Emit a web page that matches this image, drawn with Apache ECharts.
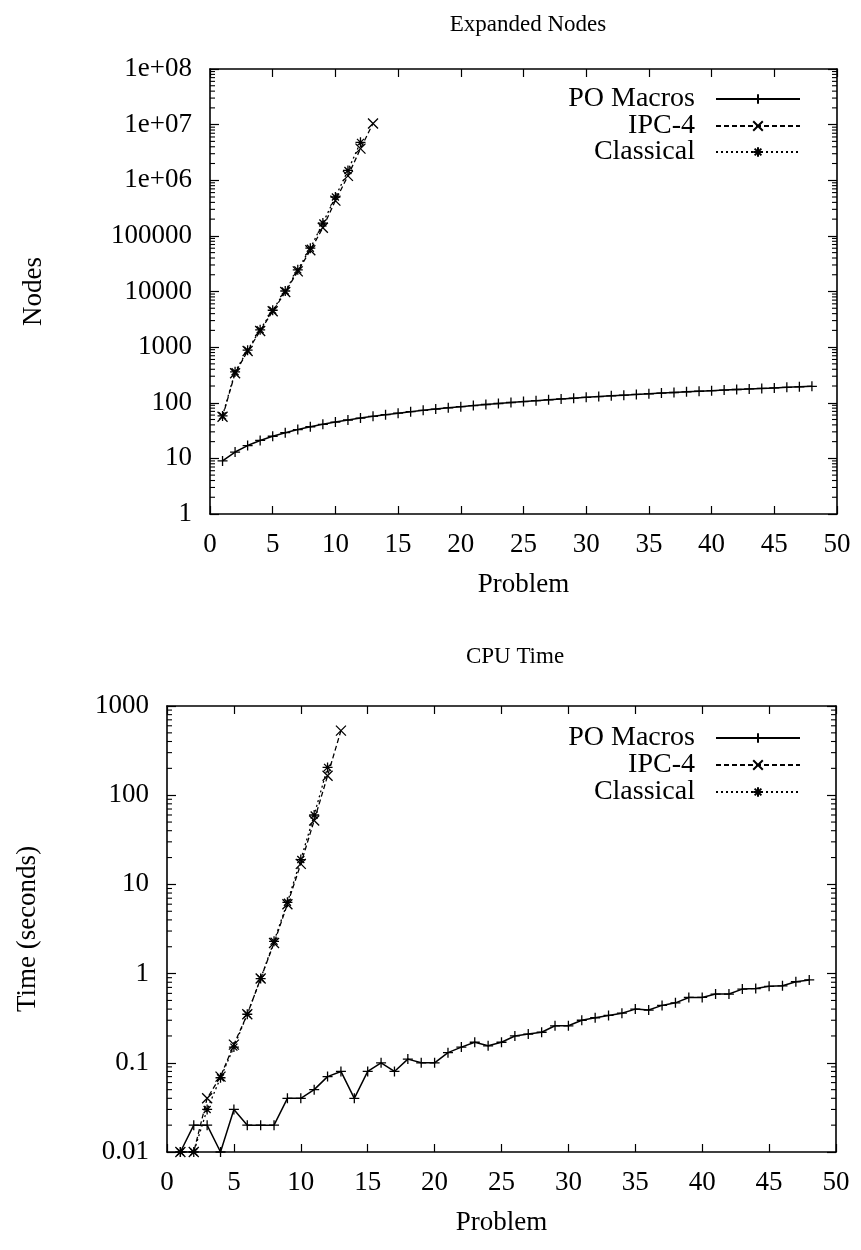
<!DOCTYPE html>
<html><head><meta charset="utf-8">
<script src="https://cdn.jsdelivr.net/npm/echarts@6/dist/echarts.min.js"></script>
<style>html,body{margin:0;padding:0;background:#fff}#c{width:861px;height:1250px}</style>
</head><body><div id="c"></div>
<script>
// ---------- data ----------
const seriesNames = ['PO Macros', 'IPC-4', 'Classical'];
const problems = [1,2,3,4,5,6,7,8,9,10,11,12,13,14,15,16,17,18,19,20,21,22,23,24,25,26,27,28,29,30,31,32,33,34,35,36,37,38,39,40,41,42,43,44,45,46,47,48];

const nodesPO = [9,13,17,21,25,29,33,37,41,45,49,53,57,61,65,69,73,77,81,85,89,93,97,101,105,109,113,117,121,125,129,133,137,141,145,149,153,157,161,165,169,173,177,181,185,189,193,197];
const nodesIPC4 = [56,340,850,1950,4400,9800,23000,55000,140000,430000,1200000,3700000,10500000];
const nodesClassical = [58,360,880,2050,4600,10200,24500,60000,170000,500000,1500000,4800000];

const timePO = [0.01,0.02,0.02,0.01,0.03,0.02,0.02,0.02,0.04,0.04,0.05,0.07,0.08,0.04,0.08,0.1,0.08,0.11,0.1,0.1,0.13,0.15,0.17,0.155,0.17,0.2,0.21,0.22,0.26,0.26,0.3,0.32,0.34,0.36,0.4,0.39,0.44,0.47,0.54,0.54,0.59,0.59,0.67,0.68,0.72,0.73,0.81,0.85];
const timeIPC4 = [0.01,0.01,0.04,0.07,0.16,0.35,0.88,2.2,6.0,17,52,165,530];
const timeClassical = [0.01,0.01,0.03,0.068,0.15,0.35,0.88,2.3,6.3,19,60,205];

const xTickLabels = ['0','5','10','15','20','25','30','35','40','45','50'];
const nodeTickLabels = ['1','10','100','1000','10000','100000','1e+06','1e+07','1e+08'];
const timeTickLabels = ['0.01','0.1','1','10','100','1000'];
const minorFactors = [2,3,4,5,6,7,8,9];

// ---------- styles ----------
const FONT = 'Liberation Serif';
const BLACK = '#000';
const LABEL_SIZE = 27;
const SYM_PLUS = 'path://M0,5L10,5M5,0L5,10';
const SYM_CROSS = 'path://M0,0L10,10M10,0L0,10';
const SYM_STAR = 'path://M0,5L10,5M5,0L5,10M1.5,1.5L8.5,8.5M8.5,1.5L1.5,8.5';

function zip(xs, ys) { return ys.map((v, i) => [xs[i], v]); }

const grids = [
  { left: 210, top: 69, width: 627, height: 445 },
  { left: 167, top: 706, width: 669, height: 446 }
];

function xAxes(gi) {
  const common = {
    type: 'value', gridIndex: gi, min: 0, max: 50, interval: 5,
    axisLine: { show: true, onZero: false, lineStyle: { color: BLACK, width: 1.6 } },
    axisTick: { show: true, inside: true, length: 8, lineStyle: { color: BLACK, width: 1.2 } },
    splitLine: { show: false }
  };
  return [
    Object.assign({}, common, {
      position: 'bottom',
      name: 'Problem', nameLocation: 'middle', nameGap: 57,
      nameTextStyle: { fontFamily: FONT, fontSize: LABEL_SIZE, color: BLACK },
      axisLabel: { show: true, margin: 17, fontFamily: FONT, fontSize: LABEL_SIZE, color: BLACK,
        formatter: v => xTickLabels[Math.round(v / 5)] }
    }),
    Object.assign({}, common, { position: 'top', axisLabel: { show: false } })
  ];
}

function yAxes(gi, min, max, labels, name, nameGap) {
  const lo = Math.round(Math.log10(min));
  const common = {
    type: 'log', logBase: 10, gridIndex: gi, min: min, max: max, interval: 1,
    axisLine: { show: true, onZero: false, lineStyle: { color: BLACK, width: 1.6 } },
    axisTick: { show: true, inside: true, length: 9, lineStyle: { color: BLACK, width: 1.2 } },
    minorTick: { show: false },
    splitLine: { show: false }
  };
  return [
    Object.assign({}, common, {
      position: 'left',
      name: name, nameLocation: 'middle', nameGap: nameGap, nameRotate: 90,
      nameTextStyle: { fontFamily: FONT, fontSize: LABEL_SIZE, color: BLACK },
      axisLabel: { show: true, margin: 18, fontFamily: FONT, fontSize: LABEL_SIZE, color: BLACK,
        formatter: v => labels[Math.round(Math.log10(v)) - lo] }
    }),
    Object.assign({}, common, { position: 'right', axisLabel: { show: false } })
  ];
}

function minorTickSeries(gi, min, max) {
  const data = [];
  for (let e = Math.round(Math.log10(min)); e < Math.round(Math.log10(max)); e++) {
    minorFactors.forEach(f => data.push([0, f * Math.pow(10, e)]));
  }
  return {
    type: 'custom', xAxisIndex: gi * 2, yAxisIndex: gi * 2, silent: true, clip: false, z: 5,
    data: data,
    renderItem: function (params, api) {
      const cs = params.coordSys;
      const y = api.coord([api.value(0), api.value(1)])[1];
      const st = { stroke: BLACK, lineWidth: 1.1 };
      return { type: 'group', children: [
        { type: 'line', shape: { x1: cs.x, y1: y, x2: cs.x + 5, y2: y }, style: st },
        { type: 'line', shape: { x1: cs.x + cs.width - 5, y1: y, x2: cs.x + cs.width, y2: y }, style: st }
      ] };
    }
  };
}

function lineSeries(gi, name, data, symbol, lineType, width) {
  return {
    type: 'line', name: name, xAxisIndex: gi * 2, yAxisIndex: gi * 2,
    data: data, symbol: symbol, symbolSize: 10, showAllSymbol: true,
    animation: false, z: 3,
    lineStyle: { color: BLACK, width: width, type: lineType },
    itemStyle: { color: BLACK, borderColor: BLACK, borderWidth: 1.3 }
  };
}

function legendRow(name, top) {
  return {
    data: [name], right: 55, top: top, orient: 'horizontal', align: 'right',
    itemWidth: 84, itemHeight: 12, selectedMode: false,
    textStyle: { fontFamily: FONT, fontSize: 28, color: BLACK, padding: [0, 16, 0, 0] }
  };
}

const option = {
  backgroundColor: '#fff',
  animation: false,
  title: [
    { text: 'Expanded Nodes', left: 523, top: 8, textAlign: 'center',
      textStyle: { fontFamily: FONT, fontSize: 23, fontWeight: 'normal', color: BLACK } },
    { text: 'CPU Time', left: 510, top: 640, textAlign: 'center',
      textStyle: { fontFamily: FONT, fontSize: 23, fontWeight: 'normal', color: BLACK } }
  ],
  grid: grids,
  legend: [
    legendRow(seriesNames[0], 80), legendRow(seriesNames[1], 107), legendRow(seriesNames[2], 133),
    legendRow(seriesNames[0], 719), legendRow(seriesNames[1], 746), legendRow(seriesNames[2], 773)
  ],
  xAxis: [].concat(xAxes(0), xAxes(1)),
  yAxis: [].concat(
    yAxes(0, 1, 1e8, nodeTickLabels, 'Nodes', 163),
    yAxes(1, 0.01, 1000, timeTickLabels, 'Time (seconds)', 126)
  ),
  series: [
    lineSeries(0, seriesNames[0], zip(problems, nodesPO), SYM_PLUS, 'solid', 1.5),
    lineSeries(0, seriesNames[1], zip(problems, nodesIPC4), SYM_CROSS, [5, 3], 1.3),
    lineSeries(0, seriesNames[2], zip(problems, nodesClassical), SYM_STAR, [2, 3], 1.3),
    lineSeries(1, seriesNames[0], zip(problems, timePO), SYM_PLUS, 'solid', 1.5),
    lineSeries(1, seriesNames[1], zip(problems, timeIPC4), SYM_CROSS, [5, 3], 1.3),
    lineSeries(1, seriesNames[2], zip(problems, timeClassical), SYM_STAR, [2, 3], 1.3),
    minorTickSeries(0, 1, 1e8),
    minorTickSeries(1, 0.01, 1000)
  ]
};

const chart = echarts.init(document.getElementById('c'), null, { renderer: 'canvas' });
chart.setOption(option);
</script>
</body></html>
